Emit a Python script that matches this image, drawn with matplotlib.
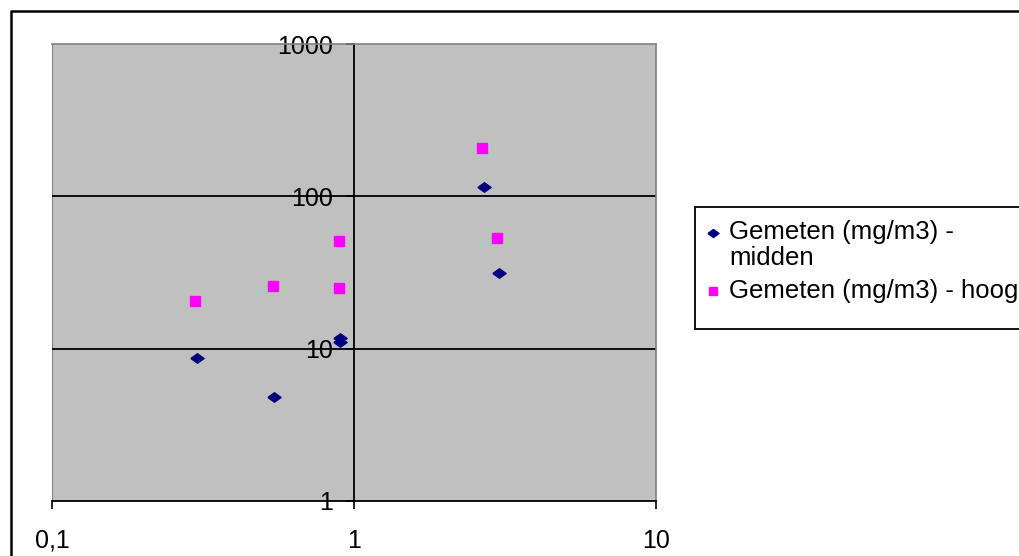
import matplotlib
matplotlib.use("Agg")
import matplotlib.pyplot as plt
from matplotlib.lines import Line2D
from matplotlib.patches import Rectangle
from matplotlib.ticker import FixedLocator, FixedFormatter, NullLocator

plt.rcParams['font.family'] = ['Liberation Sans', 'DejaVu Sans']

# ---- data ----
midden_x = [0.302, 0.543, 0.899, 0.899, 2.69, 3.02]
midden_y = [8.7, 4.8, 11.8, 11.1, 116, 31.6]
hoog_x = [0.297, 0.539, 0.892, 0.892, 2.65, 2.97]
hoog_y = [20.4, 25.6, 50.6, 25.2, 207, 53]
series_labels = ["Gemeten (mg/m3) - midden", "Gemeten (mg/m3) - hoog"]
x_ticks = [0.1, 1, 10]
x_tick_labels = ["0,1", "1", "10"]
y_ticks = [1, 10, 100, 1000]
y_tick_labels = ["1", "10", "100", "1000"]

W, H = 1019, 556
fig = plt.figure(figsize=(W / 100, H / 100), dpi=100)
fig.patch.set_facecolor('white')

L, R, T, B = 52, 656, 44, 501
ax = fig.add_axes([L / W, (H - B) / H, (R - L) / W, (B - T) / H])
ax.set_facecolor('#C0C0C0')
ax.set_xscale('log')
ax.set_yscale('log')
ax.set_xlim(0.1, 10)
ax.set_ylim(1, 1000)

for s in ['top', 'right']:
    ax.spines[s].set_color('#808080')
    ax.spines[s].set_linewidth(1.2)
ax.spines['left'].set_position(('data', 1))
ax.spines['left'].set_color('black')
ax.spines['left'].set_linewidth(1.3)
ax.spines['bottom'].set_color('black')
ax.spines['bottom'].set_linewidth(1.3)
ax.axvline(0.1, color='#808080', lw=1.5, zorder=1)

ax.xaxis.set_major_locator(FixedLocator(x_ticks))
ax.xaxis.set_major_formatter(FixedFormatter(x_tick_labels))
ax.xaxis.set_minor_locator(NullLocator())
ax.yaxis.set_major_locator(FixedLocator(y_ticks))
ax.yaxis.set_major_formatter(FixedFormatter(y_tick_labels))
ax.yaxis.set_minor_locator(NullLocator())
ax.tick_params(axis='x', direction='out', length=6, width=1.2, pad=14, labelsize=18)
ax.tick_params(axis='y', direction='out', length=6, width=1.2, pad=9, labelsize=18)

for yv in [10, 100]:
    ax.axhline(yv, color='black', lw=1.3, zorder=1)

diamond = [(-1, 0), (0, 0.72), (1, 0), (0, -0.72), (-1, 0)]
ax.plot(midden_x, midden_y, linestyle='none', marker=diamond, markersize=9.5,
        color='#000080', zorder=5, clip_on=False)
ax.plot(hoog_x, hoog_y, linestyle='none', marker='s', markersize=7,
        color='#FF00FF', zorder=5, clip_on=False)

# outer border (top & left)
fig.add_artist(Line2D([11 / W, 11 / W, 1.0], [0.0, 1 - 11 / H, 1 - 11 / H],
                      transform=fig.transFigure, color='black', lw=1.8))

# legend box (right edge runs off the figure)
lx0, ly0, ly1 = 695, 207, 329
fig.add_artist(Rectangle((lx0 / W, 1 - ly1 / H), (W + 20 - lx0) / W, (ly1 - ly0) / H,
                         transform=fig.transFigure, facecolor='white',
                         edgecolor='black', lw=1.3))
lab1 = series_labels[0].replace(" - ", " -\n")
fig.text(729 / W, 1 - 245 / H, lab1, fontsize=18.5, va='center', ha='left',
         linespacing=1.15)
fig.add_artist(Line2D([713 / W], [1 - 233 / H], transform=fig.transFigure,
                      marker=diamond, markersize=8, color='#000080', linestyle='none'))
fig.text(729 / W, 1 - 291 / H, series_labels[1], fontsize=18.5, va='center', ha='left')
fig.add_artist(Line2D([713 / W], [1 - 291 / H], transform=fig.transFigure,
                      marker='s', markersize=6, color='#FF00FF', linestyle='none'))

fig.savefig('out.png', dpi=100)
